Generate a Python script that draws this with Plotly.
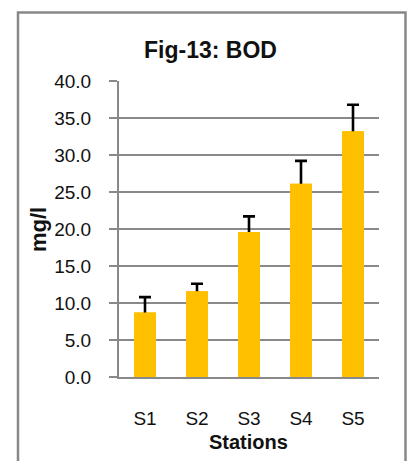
import plotly.graph_objects as go

stations = ["S1", "S2", "S3", "S4", "S5"]
bod_mean = [8.7, 11.6, 19.6, 26.1, 33.2]
bod_err = [2.1, 1.0, 2.1, 3.1, 3.6]
y_ticks = [0, 5, 10, 15, 20, 25, 30, 35, 40]

FONT = "Liberation Sans, Arial, sans-serif"
GRID = "#898989"
BAR = "#FFC000"

W, H = 414, 461
L, R, T, B = 119, 35, 81, 84
pw, ph = W - L - R, H - T - B

def px_x(x):
    return (x - L) / pw

def px_y(y):
    return (H - B - y) / ph

fig = go.Figure()
# bars carrying the error bars (lower half hidden by the overlay trace)
fig.add_trace(go.Bar(
    x=stations,
    y=bod_mean,
    marker=dict(color=BAR, line=dict(width=0)),
    error_y=dict(
        type="data", symmetric=True, array=bod_err,
        color="#000000", thickness=2.6, width=6,
    ),
    hoverinfo="skip",
))
# same bars drawn on top so only the upper error bar shows
fig.add_trace(go.Bar(
    x=stations,
    y=bod_mean,
    marker=dict(color=BAR, line=dict(width=0)),
))

fig.update_layout(
    width=W, height=H,
    margin=dict(l=L, r=R, t=T, b=B, autoexpand=False),
    paper_bgcolor="white", plot_bgcolor="white",
    showlegend=False,
    barmode="overlay",
    bargap=0.58,
    font=dict(family=FONT, color="#111111"),
    xaxis=dict(
        showline=True, linecolor=GRID, linewidth=2,
        showgrid=False, ticks="",
        tickfont=dict(size=19, family=FONT, color="#111111"),
        ticklabelstandoff=23,
    ),
    yaxis=dict(
        range=[0, 40], tickvals=y_ticks, tickformat=".1f",
        showline=True, linecolor=GRID, linewidth=2,
        showgrid=True, gridcolor=GRID, gridwidth=2,
        zeroline=False,
        ticks="outside", ticklen=8, tickcolor=GRID, tickwidth=2,
        tickfont=dict(size=19, family=FONT, color="#111111"),
        ticklabelstandoff=14,
    ),
    shapes=[dict(
        type="rect", xref="paper", yref="paper",
        x0=px_x(18), x1=px_x(405.5), y0=px_y(475), y1=px_y(12.5),
        line=dict(color="#888888", width=2.5), fillcolor="rgba(0,0,0,0)",
        layer="below",
    )],
    annotations=[
        dict(text="<b>Fig-13: BOD</b>", xref="paper", yref="paper",
             x=px_x(210), y=px_y(50), xanchor="center", yanchor="middle",
             showarrow=False, font=dict(size=23, family=FONT, color="#111111")),
        dict(text="<b>mg/l</b>", xref="paper", yref="paper",
             x=px_x(38), y=px_y(230), xanchor="center", yanchor="middle",
             textangle=-90, showarrow=False,
             font=dict(size=22, family=FONT, color="#111111")),
        dict(text="<b>Stations</b>", xref="paper", yref="paper",
             x=px_x(248), y=px_y(442), xanchor="center", yanchor="middle",
             showarrow=False, font=dict(size=20, family=FONT, color="#111111")),
    ],
)

fig.write_html(
    "out.html",
    config={"displayModeBar": False},
    post_script="document.body.style.margin='0';document.body.style.overflow='hidden';",
)
